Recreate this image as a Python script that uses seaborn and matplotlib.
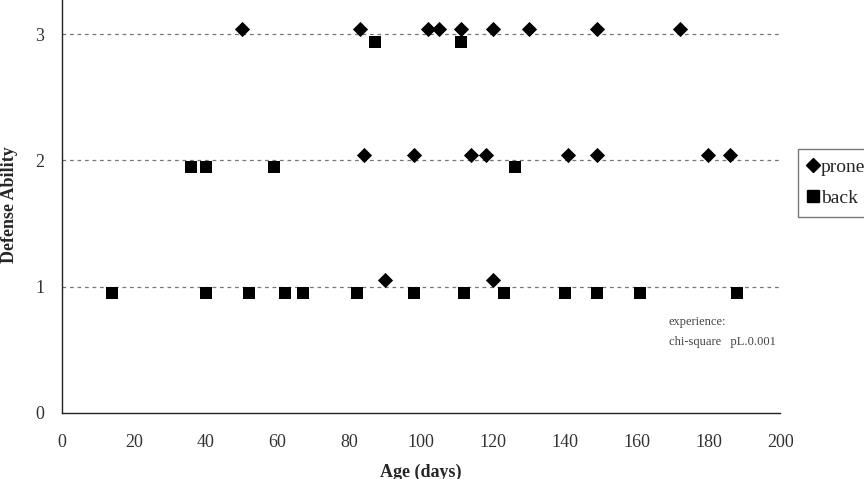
import pandas as pd
import seaborn as sns
import matplotlib.pyplot as plt
from matplotlib.lines import Line2D

# prone (diamonds) - age in days and plotted defense level
prone_age = [50, 83, 102, 105, 111, 120, 130, 149, 172,
             84, 98, 114, 118, 141, 149, 180, 186,
             90, 120]
prone_level = [3.04] * 9 + [2.04] * 8 + [1.05] * 2

# back (squares)
back_age = [87, 111,
            36, 40, 59, 126,
            14, 40, 52, 62, 67, 82, 98, 112, 123, 140, 149, 161, 188]
back_level = [2.94] * 2 + [1.95] * 4 + [0.95] * 13

x_ticks = [0, 20, 40, 60, 80, 100, 120, 140, 160, 180, 200]
y_ticks = [0, 1, 2, 3]

prone = pd.DataFrame({'age': prone_age, 'level': prone_level})
back = pd.DataFrame({'age': back_age, 'level': back_level})

sns.set_style('white')
plt.rcParams['font.family'] = ['Liberation Serif', 'DejaVu Serif']

fig = plt.figure(figsize=(8.64, 4.79), dpi=100)
ax = fig.add_axes([0.072, 0.138, 0.831, 0.87])

# dashed reference lines at each level
for y in y_ticks[1:]:
    ax.plot([0, 200], [y, y], ls=(0, (3, 3)), color='#777', lw=0.9, zorder=1)

sns.scatterplot(data=prone, x='age', y='level', marker='D', color='black',
                s=60, linewidth=0, ax=ax, zorder=3)
sns.scatterplot(data=back, x='age', y='level', marker='s', color='black',
                s=80, linewidth=0, ax=ax, zorder=3)

ax.set_xlim(0, 200)
ax.set_ylim(0, 3.3)
ax.set_xticks(x_ticks)
ax.set_yticks(y_ticks)
ax.tick_params(axis='both', direction='out', length=5, width=0.8,
               labelsize=13, colors='#333', pad=8)
ax.tick_params(axis='x', pad=10)
for side in ['top', 'right']:
    ax.spines[side].set_visible(False)
for side in ['left', 'bottom']:
    ax.spines[side].set_color('#222')
    ax.spines[side].set_linewidth(1.0)

ax.set_xlabel('Age (days)', fontsize=13, fontweight='bold', labelpad=9)
ax.set_ylabel('Defense Ability', fontsize=13, fontweight='bold', labelpad=12)

ax.text(169, 1.0 - 0.36, 'experience:\nchi-square   pL.0.001', fontsize=9,
        color='#444', linespacing=1.8, va='center')

handles = [Line2D([], [], marker='D', color='black', ls='', markersize=7),
           Line2D([], [], marker='s', color='black', ls='', markersize=9)]
fig.legend(handles, ['prone', 'back'], loc='upper left',
           bbox_to_anchor=(0.912, 0.71), frameon=True, fancybox=False,
           edgecolor='#555', fontsize=14, handlelength=0.6,
           handletextpad=0.1, labelspacing=0.7, borderpad=0.5)

fig.savefig('out.png', dpi=100)
